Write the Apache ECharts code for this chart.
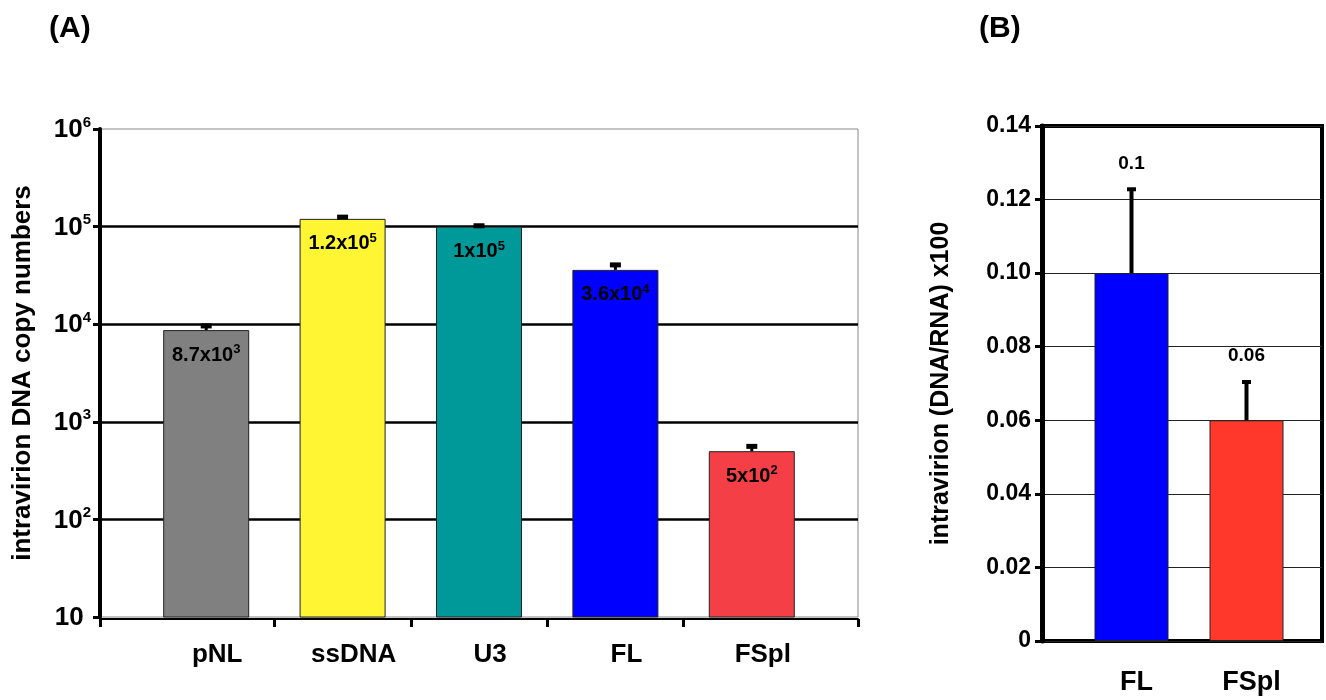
<!DOCTYPE html>
<html><head><meta charset="utf-8">
<script src="https://cdn.jsdelivr.net/npm/echarts@6/dist/echarts.min.js"></script>
<style>html,body{margin:0;padding:0;background:#fff}#c{width:1326px;height:700px}</style>
</head><body><div id="c"></div>
<script>
// Panel A data
const catsA = ['pNL', 'ssDNA', 'U3', 'FL', 'FSpl'];
const valsA = [8700, 120000, 100000, 36000, 500];
const errTopA = [9600, 125000, 102000, 40500, 560];
const lblBaseA = ['8.7x10', '1.2x10', '1x10', '3.6x10', '5x10'];
const lblExpA = ['3', '5', '5', '4', '2'];
const colorsA = ['#808080', '#FFF533', '#009999', '#0000FF', '#F43F46'];
// Panel B data
const catsB = ['FL', 'FSpl'];
const valsB = [0.1, 0.06];
const errTopB = [0.1228, 0.0704];
const lblB = ['0.1', '0.06'];
const colorsB = ['#0000FF', '#FF382B'];
const ticksB = ['0', '0.02', '0.04', '0.06', '0.08', '0.10', '0.12', '0.14'];

const FONT = 'Liberation Sans, Arial, sans-serif';
const chart = echarts.init(document.getElementById('c'));

function errRender(capW, capH, lineW, labels) {
  return function (params, api) {
    const i = api.value(0);
    const top = api.coord([i, api.value(2)]);
    const base = api.coord([i, api.value(1)]);
    const children = [
      { type: 'line', shape: { x1: top[0], y1: base[1], x2: top[0], y2: top[1] }, style: { stroke: '#000', lineWidth: lineW } },
      { type: 'rect', shape: { x: top[0] - capW / 2, y: top[1] - capH / 2, width: capW, height: capH }, style: { fill: '#000' } }
    ];
    if (labels) {
      children.push({ type: 'text', x: top[0], y: top[1] - 26, style: { text: labels[i], font: 'bold 19px ' + FONT, fill: '#000', align: 'center', verticalAlign: 'middle' } });
    }
    return { type: 'group', children };
  };
}

const option = {
  animation: false,
  backgroundColor: '#fff',
  title: [
    { text: '(A)', left: 44, top: 9, textStyle: { fontFamily: FONT, fontWeight: 'bold', fontSize: 30, color: '#000' } },
    { text: '(B)', left: 974, top: 9, textStyle: { fontFamily: FONT, fontWeight: 'bold', fontSize: 30, color: '#000' } }
  ],
  grid: [
    { left: 100, right: 468, top: 129, bottom: 83, show: true, borderColor: '#888', borderWidth: 1, outerBoundsMode: 'none' },
    { left: 138, right: 506, top: 129, bottom: 83, outerBoundsMode: 'none' },
    { left: 1042, right: 4, top: 126, bottom: 59, show: true, borderColor: '#000', borderWidth: 4, outerBoundsMode: 'none' },
    { left: 1074, right: 22, top: 126, bottom: 59, outerBoundsMode: 'none' }
  ],
  xAxis: [
    { gridIndex: 0, type: 'value', min: -0.78, max: 4.78, offset: 2,
      axisLine: { show: true, onZero: false, lineStyle: { color: '#000', width: 2 } },
      axisTick: { show: true, length: 8, customValues: [-0.78, 0.5, 1.5, 2.5, 3.5, 4.78], lineStyle: { color: '#000', width: 3 } },
      axisLabel: { show: false }, splitLine: { show: false } },
    { gridIndex: 1, type: 'category', data: catsA, offset: 2,
      axisLine: { show: false }, axisTick: { show: false },
      axisLabel: { margin: 23, padding: [0, 0, 0, 22], fontFamily: FONT, fontWeight: 'bold', fontSize: 26, color: '#000' } },
    { gridIndex: 2, type: 'value', min: 0, max: 1, axisLine: { show: false }, axisTick: { show: false }, axisLabel: { show: false }, splitLine: { show: false } },
    { gridIndex: 3, type: 'category', data: catsB,
      axisLine: { show: false }, axisTick: { show: false },
      axisLabel: { margin: 28, padding: [0, 0, 0, 10], fontFamily: FONT, fontWeight: 'bold', fontSize: 27, color: '#000' } }
  ],
  yAxis: [
    { gridIndex: 0, type: 'log', logBase: 10, min: 10, max: 1000000,
      name: 'intravirion DNA copy numbers', nameLocation: 'middle', nameRotate: 90, nameGap: 64,
      nameTextStyle: { fontFamily: FONT, fontWeight: 'bold', fontSize: 26, color: '#000' },
      axisLine: { show: true, onZero: false, lineStyle: { color: '#000', width: 4 } },
      axisTick: { show: true, length: 7, lineStyle: { color: '#000', width: 3 } },
      axisLabel: { margin: 9, color: '#000',
        formatter: function (v) { const e = Math.round(Math.log10(v)); return e === 1 ? '{b|10 }' : '{b|10}{s|' + e + '}'; },
        rich: { b: { fontFamily: FONT, fontWeight: 'bold', fontSize: 26, color: '#000', lineHeight: 28, verticalAlign: 'bottom' },
                s: { fontFamily: FONT, fontWeight: 'bold', fontSize: 15, color: '#000', lineHeight: 28, verticalAlign: 'top', padding: [0, 0, 14, 0] } } },
      splitLine: { show: true, lineStyle: { color: ['rgba(0,0,0,0)', '#000', '#000', '#000', '#000', 'rgba(0,0,0,0)'], width: 2.5 } } },
    { gridIndex: 1, type: 'log', logBase: 10, min: 10, max: 1000000, show: false, splitLine: { show: false } },
    { gridIndex: 2, type: 'value', min: 0, max: 0.14, interval: 0.02,
      name: 'intravirion (DNA/RNA) x100', nameLocation: 'middle', nameRotate: 90, nameGap: 88,
      nameTextStyle: { fontFamily: FONT, fontWeight: 'bold', fontSize: 25, color: '#000' },
      axisLine: { show: true, onZero: false, lineStyle: { color: '#000', width: 5 } },
      axisTick: { show: true, length: 7, lineStyle: { color: '#000', width: 3 } },
      axisLabel: { margin: 11, fontFamily: FONT, fontWeight: 'bold', fontSize: 23, color: '#000',
        formatter: function (v) { return ticksB[Math.round(v / 0.02)]; } },
      splitLine: { show: true, lineStyle: { color: '#222', width: 1 } } },
    { gridIndex: 3, type: 'value', min: 0, max: 0.14, show: false, splitLine: { show: false } }
  ],
  series: [
    { type: 'bar', xAxisIndex: 1, yAxisIndex: 1, barWidth: 86,
      data: valsA.map((v, i) => ({ value: v, itemStyle: { color: colorsA[i] } })),
      itemStyle: { borderColor: '#222', borderWidth: 1 },
      label: { show: true, position: 'insideTop', distance: 13, color: '#000',
        formatter: function (p) { return '{b|' + lblBaseA[p.dataIndex] + '}{s|' + lblExpA[p.dataIndex] + '}'; },
        rich: { b: { fontFamily: FONT, fontWeight: 'bold', fontSize: 20, color: '#000', lineHeight: 22, verticalAlign: 'bottom' },
                s: { fontFamily: FONT, fontWeight: 'bold', fontSize: 13, color: '#000', lineHeight: 22, verticalAlign: 'top', padding: [0, 0, 9, 0] } } } },
    { type: 'custom', xAxisIndex: 1, yAxisIndex: 1, z: 5,
      renderItem: errRender(11, 5, 3, null),
      data: valsA.map((v, i) => [i, v, errTopA[i]]) },
    { type: 'bar', xAxisIndex: 3, yAxisIndex: 3, barWidth: 74,
      data: valsB.map((v, i) => ({ value: v, itemStyle: { color: colorsB[i] } })),
      itemStyle: { borderColor: '#222', borderWidth: 1 } },
    { type: 'custom', xAxisIndex: 3, yAxisIndex: 3, z: 5,
      renderItem: errRender(9, 4, 4, lblB),
      data: valsB.map((v, i) => [i, v, errTopB[i]]) }
  ]
};
chart.setOption(option);
</script></body></html>
